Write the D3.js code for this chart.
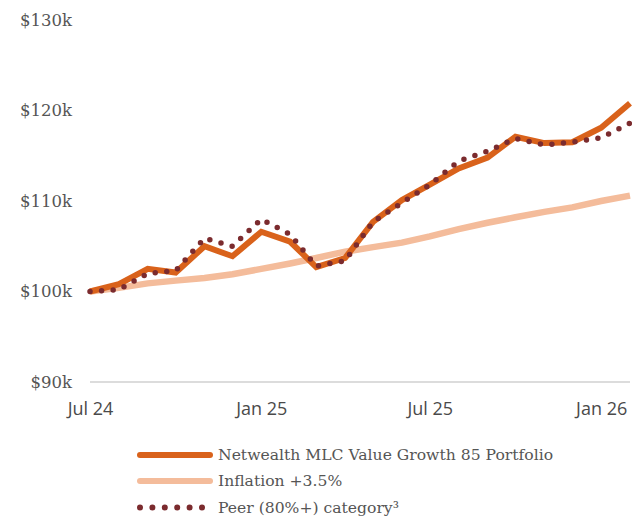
<!DOCTYPE html>
<html>
<head>
<meta charset="utf-8">
<script src="https://cdn.jsdelivr.net/npm/d3@7"></script>
<style>
  html, body { margin: 0; padding: 0; background: #fff; }
  svg { display: block; }
</style>
</head>
<body>
<svg id="chart" width="643" height="518"></svg>
<script>
// Month-end dates, Jul 2024 – Feb 2026
const months = [
  "2024-07", "2024-08", "2024-09", "2024-10", "2024-11", "2024-12",
  "2025-01", "2025-02", "2025-03", "2025-04", "2025-05", "2025-06",
  "2025-07", "2025-08", "2025-09", "2025-10", "2025-11", "2025-12",
  "2026-01", "2026-02"
];

// Growth of $100k (values in $k)
const portfolio = [100.0, 100.8, 102.5, 102.1, 105.0, 103.9, 106.6, 105.5, 102.7, 103.7,
                   107.7, 110.1, 111.8, 113.6, 114.8, 117.1, 116.4, 116.5, 118.1, 120.8];
const inflation = [100.0, 100.4, 100.9, 101.2, 101.5, 101.9, 102.5, 103.1, 103.7, 104.4,
                   104.9, 105.4, 106.1, 106.9, 107.6, 108.2, 108.8, 109.3, 110.0, 110.6];
const peer      = [100.0, 100.2, 102.0, 102.3, 105.9, 105.0, 108.0, 106.3, 102.8, 103.4,
                   107.7, 109.8, 111.8, 114.4, 115.5, 116.9, 116.2, 116.5, 117.0, 118.6];

const yTicks = [90, 100, 110, 120, 130];
const xTickDates = ["2024-07", "2025-01", "2025-07", "2026-01"];

const seriesNames = [
  "Netwealth MLC Value Growth 85 Portfolio",
  "Inflation +3.5%",
  "Peer (80%+) category³"
];

const colors = {
  portfolio: "#d9621b",
  inflation: "#f4bc9b",
  peer: "#7b2b2e",
  grid: "#dcdcdc",
  text: "#555555"
};

const parse = d3.timeParse("%Y-%m");
const dates = months.map(parse);

const svg = d3.select("#chart");

const x = d3.scaleTime()
  .domain([dates[0], dates[dates.length - 1]])
  .range([90, 630]);

const y = d3.scaleLinear()
  .domain([90, 130])
  .range([382, 20]);

// Baseline at the bottom of the value axis
svg.append("line")
  .attr("x1", x.range()[0]).attr("x2", x.range()[1])
  .attr("y1", y(90)).attr("y2", y(90))
  .attr("stroke", colors.grid).attr("stroke-width", 2);

// Value axis labels
const yAxis = d3.axisLeft(y)
  .tickValues(yTicks)
  .tickSize(0)
  .tickPadding(0)
  .tickFormat(d => "$" + d + "k");
const yg = svg.append("g").attr("transform", "translate(72,0)").call(yAxis);
yg.select(".domain").remove();
yg.selectAll("text")
  .attr("font-family", "'DejaVu Serif', serif")
  .attr("font-size", 16.5)
  .attr("fill", colors.text);

// Date axis labels
const xAxis = d3.axisBottom(x)
  .tickValues(xTickDates.map(parse))
  .tickSize(0)
  .tickPadding(0)
  .tickFormat(d3.timeFormat("%b %y"));
const xg = svg.append("g").attr("transform", "translate(0,402)").call(xAxis);
xg.select(".domain").remove();
xg.selectAll("text")
  .attr("font-family", "'Open Sans', sans-serif")
  .attr("font-size", 18)
  .attr("fill", "#4a4a4a");

const line = d3.line()
  .x((d, i) => x(dates[i]))
  .y(d => y(d));

svg.append("path")
  .datum(inflation)
  .attr("d", line)
  .attr("fill", "none")
  .attr("stroke", colors.inflation)
  .attr("stroke-width", 6.5);

svg.append("path")
  .datum(portfolio)
  .attr("d", line)
  .attr("fill", "none")
  .attr("stroke", colors.portfolio)
  .attr("stroke-width", 6)
  .attr("stroke-linejoin", "miter");

svg.append("path")
  .datum(peer)
  .attr("d", line)
  .attr("fill", "none")
  .attr("stroke", colors.peer)
  .attr("stroke-width", 5.5)
  .attr("stroke-linecap", "round")
  .attr("stroke-dasharray", "0 11.6");

// Legend
const legend = svg.append("g").attr("transform", "translate(140,0)");
const legendRows = [
  { name: seriesNames[0], color: colors.portfolio, width: 6, dash: null, y: 455 },
  { name: seriesNames[1], color: colors.inflation, width: 6, dash: null, y: 481 },
  { name: seriesNames[2], color: colors.peer, width: 6, dash: "0 12.4", y: 507.5 }
];
legendRows.forEach(r => {
  legend.append("line")
    .attr("x1", 0).attr("x2", r.dash ? 63 : 70)
    .attr("y1", r.y).attr("y2", r.y)
    .attr("stroke", r.color)
    .attr("stroke-width", r.width)
    .attr("stroke-linecap", "round")
    .attr("stroke-dasharray", r.dash);
  legend.append("text")
    .attr("x", 78).attr("y", r.y)
    .attr("dy", "0.35em")
    .attr("font-family", "'DejaVu Serif', serif")
    .attr("font-size", 15.6)
    .attr("fill", colors.text)
    .text(r.name);
});
</script>
</body>
</html>
